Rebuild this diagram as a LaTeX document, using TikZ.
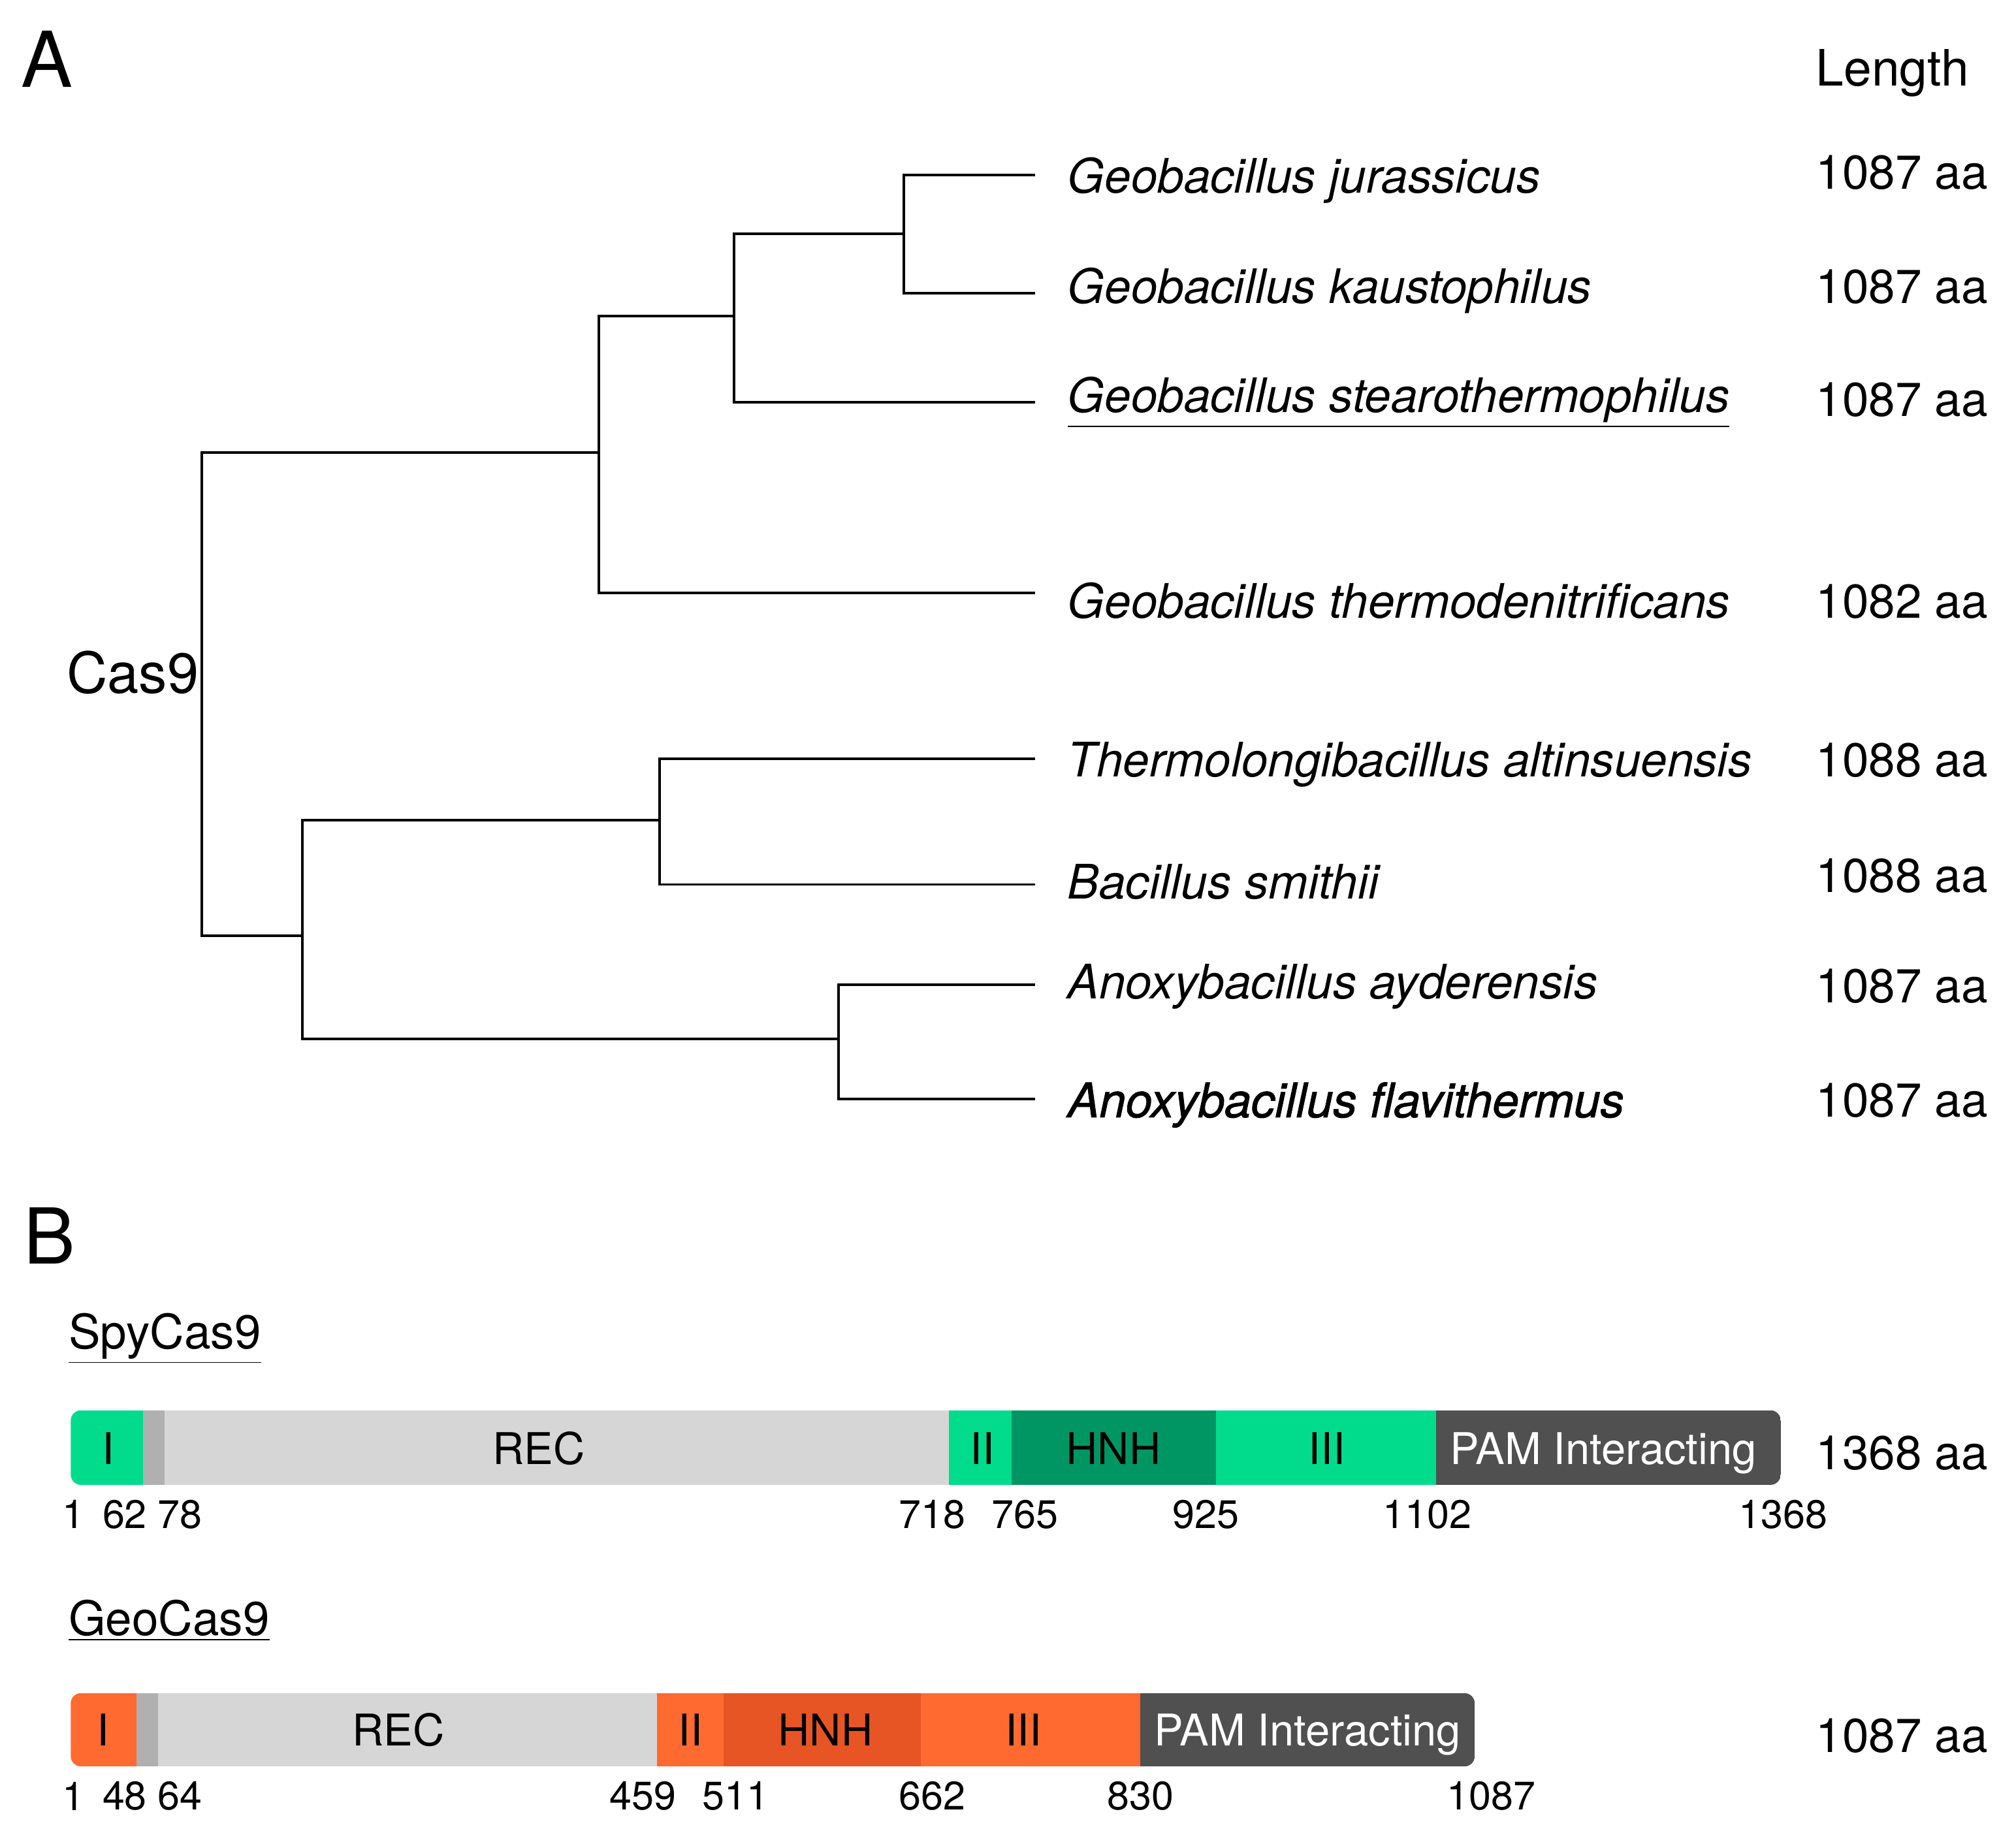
\documentclass[tikz,border=0pt]{standalone}
\usepackage{fontspec}
\setmainfont{TeX Gyre Heros}
\newfontfamily\semibf[FakeBold=1.3]{TeX Gyre Heros}
\definecolor{grn}{RGB}{0,220,140}
\definecolor{dgrn}{RGB}{0,150,100}
\definecolor{org}{RGB}{255,106,48}
\definecolor{dorg}{RGB}{232,85,37}
\definecolor{lgray}{RGB}{214,214,214}
\definecolor{mgray}{RGB}{176,176,176}
\definecolor{pam}{RGB}{80,80,80}
\tikzset{
  br/.style={line width=1pt, black},
  sp/.style={anchor=base west, inner sep=0pt, font=\fontsize{18.5}{20}\selectfont\itshape},
  len/.style={anchor=base west, inner sep=0pt, font=\fontsize{18.5}{20}\selectfont},
  panel/.style={anchor=base west, inner sep=0pt, font=\fontsize{30}{32}\selectfont},
  seglab/.style={anchor=base, inner sep=0pt, font=\fontsize{17}{18}\selectfont},
  poslab/.style={inner sep=0pt, font=\fontsize{15.5}{17}\selectfont},
  protlab/.style={anchor=base west, inner sep=0pt, font=\fontsize{18.5}{20}\selectfont},
}
\begin{document}
\begin{tikzpicture}[x=0.5pt,y=-0.5pt]
\useasboundingbox (0,0) rectangle (1568,1424);
% panel labels
\node[panel] (pA) at (16,68) {A};
\node[panel] (pB) at (18,983) {B};
\node[len, font=\fontsize{19.5}{21}\selectfont] (lenhead) at (1412,67) {Length};
% tree coordinates
\coordinate (L1) at (805,136);
\coordinate (L2) at (805,228);
\coordinate (L3) at (805,313);
\coordinate (L4) at (805,461);
\coordinate (L5) at (805,590);
\coordinate (L6) at (805,688);
\coordinate (L7) at (805,766);
\coordinate (L8) at (805,855);
\coordinate (n12) at (703,182);
\coordinate (n123) at (571,246);
\coordinate (n1234) at (466,352);
\coordinate (n56) at (513,638);
\coordinate (n78) at (652,808);
\coordinate (n5678) at (235,728);
\coordinate (root) at (157,540);
\draw[br] (n12) |- (L1);
\draw[br] (n12) |- (L2);
\draw[br] (n123) |- (n12);
\draw[br] (n123) |- (L3);
\draw[br] (n1234) |- (n123);
\draw[br] (n1234) |- (L4);
\draw[br] (n56) |- (L5);
\draw[br] (n56) |- (L6);
\draw[br] (n78) |- (L7);
\draw[br] (n78) |- (L8);
\draw[br] (n5678) |- (n56);
\draw[br] (n5678) |- (n78);
\draw[br] (root) |- (n1234);
\draw[br] (root) |- (n5678);
\node[anchor=base east, inner sep=0pt, font=\fontsize{22}{24}\selectfont] (cas9) at (155,539) {Cas9};
% species
\node[sp] (s1) at (830,150) {Geobacillus jurassicus};
\node[sp] (s2) at (830,236) {Geobacillus kaustophilus};
\node[sp] (s3) at (830,321) {\underline{Geobacillus stearothermophilus}};
\node[sp] (s4) at (830,481) {Geobacillus thermodenitrificans};
\node[sp] (s5) at (830,604) {Thermolongibacillus altinsuensis};
\node[sp] (s6) at (830,699) {Bacillus smithii};
\node[sp] (s7) at (830,777) {Anoxybacillus ayderensis};
\node[sp, font=\fontsize{18.5}{20}\selectfont\semibf\itshape] (s8) at (830,869) {Anoxybacillus flavithermus};
% lengths
\node[len] (a1) at (1412,147) {1087 aa};
\node[len] (a2) at (1412,236) {1087 aa};
\node[len] (a3) at (1412,324) {1087 aa};
\node[len] (a4) at (1412,481) {1082 aa};
\node[len] (a5) at (1412,604) {1088 aa};
\node[len] (a6) at (1412,694) {1088 aa};
\node[len] (a7) at (1412,780) {1087 aa};
\node[len] (a8) at (1412,869) {1087 aa};
% SpyCas9
\node[protlab] (spyname) at (53,1049) {\underline{SpyCas9}};
\begin{scope}
\clip[rounded corners=4pt] (55,1097) rectangle (1385,1155);
\fill[grn] (55,1097) rectangle (111,1155);
\fill[mgray] (111,1097) rectangle (128,1155);
\fill[lgray] (128,1097) rectangle (738,1155);
\fill[grn] (738,1097) rectangle (787,1155);
\fill[dgrn] (787,1097) rectangle (946,1155);
\fill[grn] (946,1097) rectangle (1117,1155);
\fill[pam] (1117,1097) rectangle (1385,1155);
\end{scope}
\node[seglab] (spyI) at (84,1139) {I};
\node[seglab] (spyREC) at (419,1139) {REC};
\node[seglab] (spyII) at (764,1139) {II};
\node[seglab] (spyHNH) at (866,1139) {HNH};
\node[seglab] (spyIII) at (1032,1139) {III};
\node[seglab, text=white] (spyPAM) at (1247,1139) {PAM Interacting};
\node[len] (spylen) at (1412,1143) {1368 aa};
\node[poslab] (sp1) at (57,1178) {1};
\node[poslab] (sp2) at (97,1178) {62};
\node[poslab] (sp3) at (140,1178) {78};
\node[poslab] (sp4) at (725,1178) {718};
\node[poslab] (sp5) at (797,1178) {765};
\node[poslab] (sp6) at (938,1178) {925};
\node[poslab] (sp7) at (1110,1178) {1102};
\node[poslab] (sp8) at (1387,1178) {1368};
% GeoCas9
\node[protlab] (geoname) at (53,1272) {\underline{GeoCas9}};
\begin{scope}
\clip[rounded corners=4pt] (55,1317) rectangle (1147,1374);
\fill[org] (55,1317) rectangle (106,1374);
\fill[mgray] (106,1317) rectangle (123,1374);
\fill[lgray] (123,1317) rectangle (511,1374);
\fill[org] (511,1317) rectangle (563,1374);
\fill[dorg] (563,1317) rectangle (716,1374);
\fill[org] (716,1317) rectangle (887,1374);
\fill[pam] (887,1317) rectangle (1147,1374);
\end{scope}
\node[seglab] (geoI) at (80,1358) {I};
\node[seglab] (geoREC) at (310,1358) {REC};
\node[seglab] (geoII) at (537,1358) {II};
\node[seglab] (geoHNH) at (642,1358) {HNH};
\node[seglab] (geoIII) at (796,1358) {III};
\node[seglab, text=white] (geoPAM) at (1017,1358) {PAM Interacting};
\node[len] (geolen) at (1412,1363) {1087 aa};
\node[poslab] (gp1) at (57,1397) {1};
\node[poslab] (gp2) at (97,1397) {48};
\node[poslab] (gp3) at (140,1397) {64};
\node[poslab] (gp4) at (500,1397) {459};
\node[poslab] (gp5) at (572,1397) {511};
\node[poslab] (gp6) at (725,1397) {662};
\node[poslab] (gp7) at (887,1397) {830};
\node[poslab] (gp8) at (1160,1397) {1087};
\end{tikzpicture}
\end{document}
